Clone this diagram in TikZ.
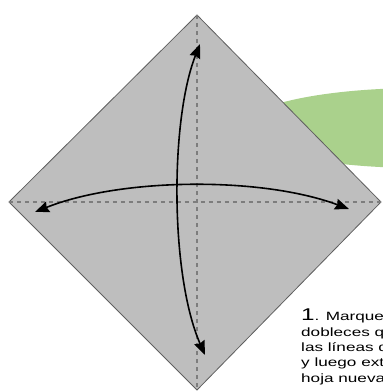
\documentclass[tikz,border=0pt]{standalone}
\usepackage{fontspec}
\setmainfont{Liberation Sans}
\usetikzlibrary{arrows.meta}
\definecolor{paper}{RGB}{190,190,190}
\definecolor{edge}{RGB}{95,95,95}
\definecolor{leaf}{RGB}{170,209,140}
\definecolor{crease}{RGB}{125,125,125}
\newfontfamily\capfont[FakeStretch=1.43]{Liberation Sans}
\tikzset{
  creaseline/.style={draw=crease, line width=1.1pt, dash pattern=on 4pt off 4pt},
  foldtip/.tip={Stealth[length=14pt,width=11pt,inset=1.5pt]},
  foldarrow/.style={draw=black, line width=1.6pt, foldtip-foldtip},
  caption/.style={anchor=base west, inner sep=0pt, font=\capfont\fontsize{12}{15}\selectfont, text=black}
}
\begin{document}
\begin{tikzpicture}[x=1pt,y=-1pt]
  \useasboundingbox (0,0) rectangle (383,392);
  \clip (0,0) rectangle (383,392);
  % green ellipse in background
  \fill[leaf] (420,128) ellipse [x radius=179, y radius=40];
  % square paper
  \coordinate (T) at (197,15);
  \coordinate (R) at (381,202);
  \coordinate (B) at (197,390);
  \coordinate (L) at (9,202);
  \filldraw[fill=paper, draw=edge, line width=0.8pt] (T) -- (R) -- (B) -- (L) -- cycle;
  % crease lines
  \draw[creaseline] (L) -- (R);
  \draw[creaseline] (T) -- (B);
  % fold arrows
  \coordinate (hl) at (35,212);
  \coordinate (hr) at (349,209);
  \coordinate (vt) at (200,44);
  \coordinate (vb) at (205,355);
  \draw[foldarrow] (hl) .. controls (120,178) and (260,176) .. (hr);
  \draw[foldarrow] (vt) .. controls (170,120) and (170,275) .. (vb);
  % caption
  \node[caption] (l1) at (301,320) {{\fontsize{17}{17}\selectfont 1}. Marque};
  \node[caption] (l2) at (301,336) {dobleces q};
  \node[caption] (l3) at (301,351) {las líneas d};
  \node[caption] (l4) at (301,366) {y luego ext};
  \node[caption] (l5) at (301,382) {hoja nueva};
\end{tikzpicture}
\end{document}
